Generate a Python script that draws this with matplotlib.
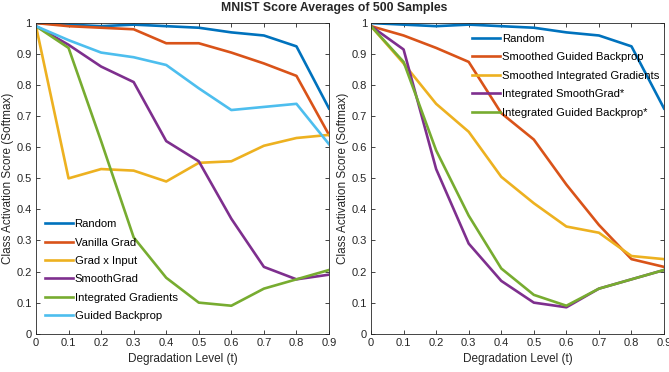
import matplotlib
matplotlib.use("Agg")
import matplotlib.pyplot as plt
import numpy as np

plt.rcParams['font.family'] = ['Liberation Sans', 'DejaVu Sans']

levels = [0, 0.1, 0.2, 0.3, 0.4, 0.5, 0.6, 0.7, 0.8, 0.9]

# left panel
random_scores = [1.0, 0.995, 0.99, 0.995, 0.99, 0.985, 0.97, 0.96, 0.925, 0.725]
vanilla_grad = [1.0, 0.99, 0.985, 0.98, 0.935, 0.935, 0.905, 0.87, 0.83, 0.64]
grad_x_input = [0.99, 0.50, 0.53, 0.525, 0.49, 0.55, 0.555, 0.605, 0.63, 0.64]
smoothgrad = [0.99, 0.93, 0.86, 0.81, 0.62, 0.555, 0.37, 0.215, 0.175, 0.19]
integrated_gradients = [0.99, 0.92, 0.62, 0.31, 0.18, 0.10, 0.09, 0.145, 0.175, 0.205]
guided_backprop = [0.99, 0.945, 0.905, 0.89, 0.865, 0.79, 0.72, 0.73, 0.74, 0.61]

# right panel
smoothed_gbp = [0.99, 0.96, 0.92, 0.875, 0.71, 0.625, 0.48, 0.35, 0.24, 0.215]
smoothed_ig = [0.99, 0.87, 0.74, 0.65, 0.505, 0.42, 0.345, 0.325, 0.25, 0.24]
integrated_sg = [0.99, 0.915, 0.53, 0.29, 0.17, 0.10, 0.085, 0.145, 0.175, 0.205]
integrated_gbp = [0.99, 0.875, 0.59, 0.38, 0.21, 0.125, 0.09, 0.145, 0.175, 0.205]

colors = ['#0072BD', '#D95319', '#EDB120', '#7E2F8E', '#77AC30', '#4DBEEE']

left_series = [("Random", random_scores), ("Vanilla Grad", vanilla_grad),
               ("Grad x Input", grad_x_input), ("SmoothGrad", smoothgrad),
               ("Integrated Gradients", integrated_gradients),
               ("Guided Backprop", guided_backprop)]
right_series = [("Random", random_scores), ("Smoothed Guided Backprop", smoothed_gbp),
                ("Smoothed Integrated Gradients", smoothed_ig),
                ("Integrated SmoothGrad*", integrated_sg),
                ("Integrated Guided Backprop*", integrated_gbp)]

fig = plt.figure(figsize=(6.69, 3.72), dpi=100)
ax1 = fig.add_axes([0.0538, 0.103, 0.438, 0.835])
ax2 = fig.add_axes([0.5546, 0.103, 0.438, 0.835])

def style(ax):
    ax.set_xlim(0, 0.9)
    ax.set_ylim(0, 1)
    ax.set_xticks(levels)
    ax.set_xticklabels(['0', '0.1', '0.2', '0.3', '0.4', '0.5', '0.6', '0.7', '0.8', '0.9'])
    ax.set_yticks(np.arange(0, 1.01, 0.1))
    ax.set_yticklabels(['0', '0.1', '0.2', '0.3', '0.4', '0.5', '0.6', '0.7', '0.8', '0.9', '1'])
    ax.tick_params(direction='in', top=True, right=True, length=3, width=0.6,
                   labelsize=8, colors='#262626', pad=3)
    for s in ax.spines.values():
        s.set_color('#262626')
        s.set_linewidth(0.6)
    ax.set_xlabel('Degradation Level (t)', fontsize=8.5, color='#262626', labelpad=4)
    ax.set_ylabel('Class Activation Score (Softmax)', fontsize=8.5, color='#262626', labelpad=2)

for i, (name, vals) in enumerate(left_series):
    ax1.plot(levels, vals, color=colors[i], lw=1.9, label=name)
for i, (name, vals) in enumerate(right_series):
    ax2.plot(levels, vals, color=colors[i], lw=1.9, label=name)

style(ax1)
style(ax2)

leg_kw = dict(frameon=False, fontsize=8.1, handlelength=2.5, handletextpad=0.15,
              labelspacing=0.75, borderpad=0.0, borderaxespad=0.0)
ax1.legend(loc='lower left', bbox_to_anchor=(0.03, 0.04), **leg_kw)
ax2.legend(loc='upper left', bbox_to_anchor=(0.345, 0.965), **leg_kw)

fig.text(0.5, 0.978, 'MNIST Score Averages of 500 Samples', ha='center', va='center',
         fontsize=8.8, fontweight='bold', color='#262626')

fig.savefig('out.png', dpi=100)
